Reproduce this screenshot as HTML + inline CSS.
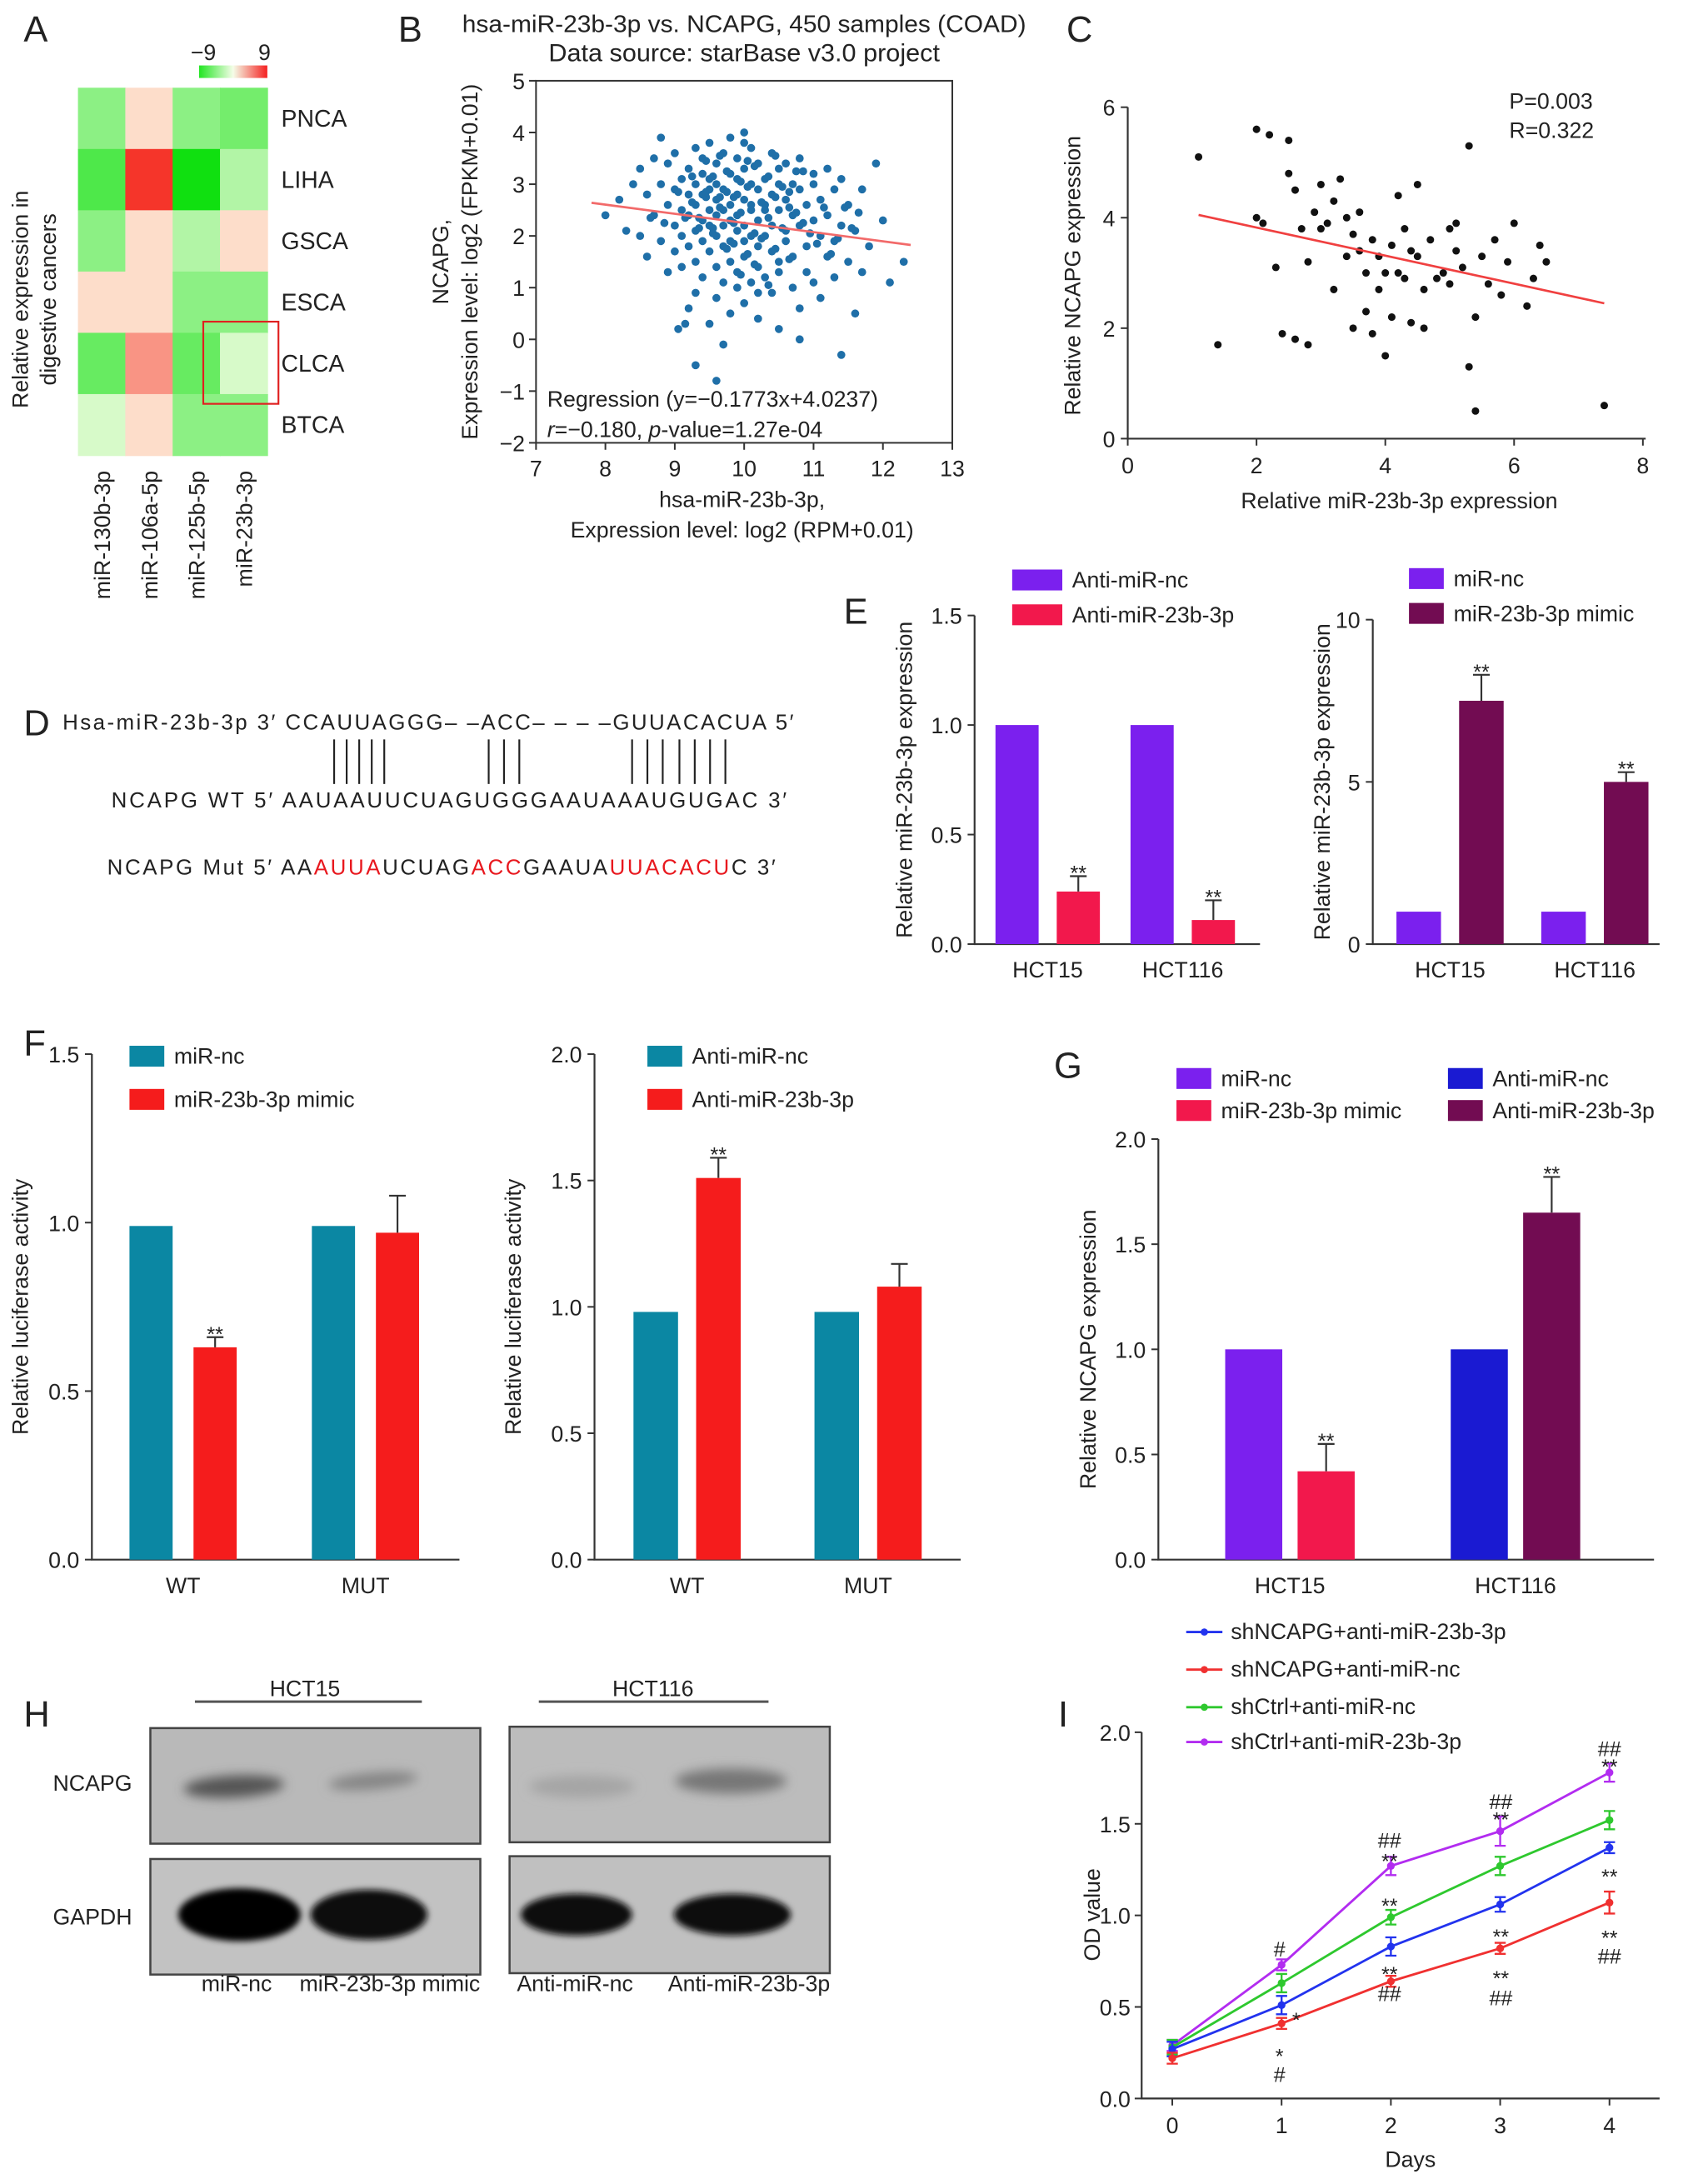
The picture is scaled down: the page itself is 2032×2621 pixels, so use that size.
<!DOCTYPE html>
<html><head><meta charset="utf-8"><style>
html,body{margin:0;padding:0;background:#fff}
svg{display:block}
text{font-family:"Liberation Sans",Arial,sans-serif;fill:#222}
</style></head><body>
<svg id="fig" xmlns="http://www.w3.org/2000/svg" width="2032" height="2621" viewBox="0 0 1216 1568.4" preserveAspectRatio="none">
<defs>
<filter id="blur3" x="-30%" y="-80%" width="160%" height="260%"><feGaussianBlur stdDeviation="4"/></filter>
<filter id="blur2" x="-30%" y="-80%" width="160%" height="260%"><feGaussianBlur stdDeviation="2.2"/></filter>
<linearGradient id="cbar" x1="0" x2="1" y1="0" y2="0"><stop offset="0" stop-color="#22e622"/><stop offset="0.5" stop-color="#f5fde8"/><stop offset="1" stop-color="#f52020"/></linearGradient>
</defs>
<g id="pA">
<text x="17" y="30" font-size="26">A</text>
<text x="146" y="43" font-size="16" text-anchor="middle">−9</text>
<text x="190" y="43" font-size="16" text-anchor="middle">9</text>
<rect x="143" y="47" width="49" height="9" fill="url(#cbar)"/>
<text transform="translate(20,215) rotate(-90)" font-size="16" text-anchor="middle">Relative expression in</text>
<text transform="translate(40,215) rotate(-90)" font-size="16" text-anchor="middle">digestive cancers</text>
</g>
<g id="pB">
<text x="286" y="30" font-size="26">B</text>
<text x="332" y="23" font-size="17" textLength="405" lengthAdjust="spacingAndGlyphs">hsa-miR-23b-3p vs. NCAPG, 450 samples (COAD)</text>
<text x="394" y="44" font-size="17.5" textLength="281" lengthAdjust="spacingAndGlyphs">Data source: starBase v3.0 project</text>
<rect x="385" y="58" width="299" height="260" fill="none" stroke="#333" stroke-width="1.2"/>
<text x="533" y="364" font-size="16" text-anchor="middle">hsa-miR-23b-3p,</text>
<text x="533" y="386" font-size="16" text-anchor="middle">Expression level: log2 (RPM+0.01)</text>
<text transform="translate(322,188) rotate(-90)" font-size="16" text-anchor="middle">NCAPG,</text>
<text transform="translate(343,188) rotate(-90)" font-size="16" text-anchor="middle">Expression level: log2 (FPKM+0.01)</text>
<text x="393" y="292" font-size="16">Regression (y=−0.1773x+4.0237)</text>
<text x="393" y="314" font-size="16"><tspan font-style="italic">r</tspan>=−0.180, <tspan font-style="italic">p</tspan>-value=1.27e-04</text>
</g>
<g id="pC">
<text x="766" y="30" font-size="26">C</text>
<text x="1084" y="78" font-size="16">P=0.003</text>
<text x="1084" y="99" font-size="16">R=0.322</text>
<text x="1005" y="365" font-size="16" text-anchor="middle">Relative miR-23b-3p expression</text>
<text transform="translate(776,198) rotate(-90)" font-size="16" text-anchor="middle">Relative NCAPG expression</text>
</g>
<g id="pD" font-size="15.5">
<text x="17" y="528" font-size="26">D</text>
<text x="45" y="524" font-size="15.5" textLength="525" lengthAdjust="spacing">Hsa-miR-23b-3p  3′  CCAUUAGGG– –ACC– – – –GUUACACUA 5′</text>
<g stroke="#222" stroke-width="1.3">
<line x1="240" y1="531" x2="240" y2="563"/><line x1="249" y1="531" x2="249" y2="563"/><line x1="258" y1="531" x2="258" y2="563"/><line x1="267" y1="531" x2="267" y2="563"/><line x1="276" y1="531" x2="276" y2="563"/>
<line x1="351" y1="531" x2="351" y2="563"/><line x1="362" y1="531" x2="362" y2="563"/><line x1="373" y1="531" x2="373" y2="563"/>
<line x1="454" y1="531" x2="454" y2="563"/><line x1="465" y1="531" x2="465" y2="563"/><line x1="476" y1="531" x2="476" y2="563"/><line x1="488" y1="531" x2="488" y2="563"/><line x1="499" y1="531" x2="499" y2="563"/><line x1="510" y1="531" x2="510" y2="563"/><line x1="521" y1="531" x2="521" y2="563"/>
</g>
<text x="80" y="580" font-size="15.5" textLength="485" lengthAdjust="spacing">NCAPG WT  5′   AAUAAUUCUAGUGGGAAUAAAUGUGAC 3′</text>
<text x="77" y="628" font-size="15.5" textLength="480" lengthAdjust="spacing">NCAPG Mut  5′   AA<tspan fill="#e8181e">AUUA</tspan>UCUAG<tspan fill="#e8181e">ACC</tspan>GAAUA<tspan fill="#e8181e">UUACACU</tspan>C 3′</text>
</g>
<g id="pE">
<text x="606" y="448" font-size="26">E</text>
</g>
<g id="pF">
<text x="17" y="758" font-size="26">F</text>
</g>
<g id="pG">
<text x="757" y="774" font-size="26">G</text>
</g>
<g id="pH">
<text x="17" y="1240" font-size="26">H</text>
<text x="219" y="1218" font-size="16" text-anchor="middle">HCT15</text>
<line x1="140" y1="1222" x2="303" y2="1222" stroke="#555" stroke-width="1.8"/>
<text x="469" y="1218" font-size="16" text-anchor="middle">HCT116</text>
<line x1="387" y1="1222" x2="552" y2="1222" stroke="#555" stroke-width="1.8"/>
<text x="38" y="1286" font-size="16">NCAPG</text>
<text x="38" y="1382" font-size="16">GAPDH</text>
<rect x="108" y="1241" width="237" height="83" fill="#b9b9b9" stroke="#444" stroke-width="1.5"/>
<rect x="108" y="1335" width="237" height="83" fill="#c2c2c2" stroke="#444" stroke-width="1.5"/>
<rect x="366" y="1240" width="230" height="83" fill="#bcbcbc" stroke="#444" stroke-width="1.5"/>
<rect x="366" y="1333" width="230" height="84" fill="#c0c0c0" stroke="#444" stroke-width="1.5"/>
<ellipse cx="168" cy="1283" rx="36" ry="8" fill="#555" filter="url(#blur3)" transform="rotate(-3 168 1283)"/>
<ellipse cx="268" cy="1279" rx="32" ry="6" fill="#858585" filter="url(#blur3)" transform="rotate(-5 268 1279)"/>
<ellipse cx="418" cy="1283" rx="38" ry="8" fill="#a5a5a5" filter="url(#blur3)"/>
<ellipse cx="525" cy="1279" rx="40" ry="9" fill="#777" filter="url(#blur3)"/>
<ellipse cx="172" cy="1375" rx="44" ry="19" fill="#050505" filter="url(#blur2)"/>
<ellipse cx="265" cy="1375" rx="42" ry="18" fill="#101010" filter="url(#blur2)"/>
<ellipse cx="414" cy="1375" rx="40" ry="15" fill="#111" filter="url(#blur2)"/>
<ellipse cx="526" cy="1375" rx="42" ry="15" fill="#111" filter="url(#blur2)"/>
<text x="170" y="1430" font-size="16" text-anchor="middle">miR-nc</text>
<text x="280" y="1430" font-size="16" text-anchor="middle">miR-23b-3p mimic</text>
<text x="413" y="1430" font-size="16" text-anchor="middle">Anti-miR-nc</text>
<text x="538" y="1430" font-size="16" text-anchor="middle">Anti-miR-23b-3p</text>
</g>
<g id="pI">
<text x="760" y="1240" font-size="26">I</text>
<text x="1013" y="1556" font-size="16" text-anchor="middle">Days</text>
<text transform="translate(790,1375) rotate(-90)" font-size="16" text-anchor="middle">OD value</text>
</g>
</svg>
<script>
// ---------- data ----------
const hmRows = ['PNCA','LIHA','GSCA','ESCA','CLCA','BTCA'];
const hmCols = ['miR-130b-3p','miR-106a-5p','miR-125b-5p','miR-23b-3p'];
const hmValues = [[-4,0.5,-4,-5],[-6.5,8.5,-9,-2.5],[-4,0.5,-2.5,0.5],[0.5,0.5,-4,-4],[-5.5,4,-5.5,-1],[-1,0.5,-4,-4]];

const bX = [8.0,8.2,8.3,8.4,8.5,8.5,8.6,8.6,8.7,8.7,8.8,8.8,8.8,8.9,8.9,8.9,9.0,9.0,9.0,9.0,9.1,9.1,9.1,9.1,9.2,9.2,9.2,9.2,9.2,9.3,9.3,9.3,9.3,9.3,9.3,9.4,9.4,9.4,9.4,9.4,9.4,9.5,9.5,9.5,9.5,9.5,9.5,9.5,9.6,9.6,9.6,9.6,9.6,9.6,9.6,9.7,9.7,9.7,9.7,9.7,9.7,9.7,9.8,9.8,9.8,9.8,9.8,9.8,9.8,9.9,9.9,9.9,9.9,9.9,9.9,10.0,10.0,10.0,10.0,10.0,10.0,10.0,10.1,10.1,10.1,10.1,10.1,10.1,10.2,10.2,10.2,10.2,10.2,10.2,10.3,10.3,10.3,10.3,10.3,10.4,10.4,10.4,10.4,10.4,10.5,10.5,10.5,10.5,10.5,10.6,10.6,10.6,10.6,10.7,10.7,10.7,10.7,10.8,10.8,10.8,10.8,10.9,10.9,10.9,11.0,11.0,11.0,11.0,11.1,11.1,11.1,11.2,11.2,11.2,11.3,11.3,11.3,11.4,11.4,11.5,11.5,11.6,11.6,11.7,11.7,11.8,11.9,12.0,12.1,12.3,9.9,10.2,10.5,9.6,9.3,10.8,11.4,10.0,
 9.05,9.15,9.25,9.35,9.45,9.55,9.65,9.75,9.85,9.95,10.05,10.15,10.25,10.35,10.45,10.55,10.65,10.75,10.85,10.95,9.15,9.35,9.55,9.75,9.95,10.15,10.35,10.55,10.75,9.45,9.65,9.85,10.05,10.25,10.45,10.65,11.05,11.25,11.45,11.65,8.85,8.65,9.05,9.25,9.45,9.65,9.85,10.05,10.25,10.45,10.65,10.85,11.15,11.35,11.55,9.55,9.75,9.95,10.15,10.35];
const bY = [2.4,2.7,2.1,3.0,3.3,2.0,2.8,1.6,3.5,2.4,3.0,1.9,3.9,2.6,1.3,3.4,2.2,2.9,1.7,3.6,2.5,3.1,1.4,2.0,2.8,3.3,1.8,2.4,0.6,2.1,3.0,1.5,3.7,2.6,0.9,2.3,3.2,1.9,2.8,1.2,3.5,2.5,3.8,1.7,2.2,2.9,0.3,3.1,2.0,2.7,1.4,3.4,2.4,0.8,3.0,2.2,1.8,2.9,3.6,1.1,2.5,-0.1,2.6,1.9,3.2,2.3,1.5,3.9,0.5,2.8,2.1,1.3,3.1,2.4,3.5,1.9,2.7,0.7,3.3,2.2,1.6,4.0,2.5,3.0,1.1,2.0,3.7,2.6,1.8,2.9,0.4,2.3,3.4,1.4,2.6,2.0,3.1,1.2,2.5,3.6,1.7,2.8,0.9,2.2,3.3,2.5,1.5,3.0,0.2,2.1,2.7,1.9,3.4,1.0,2.4,3.0,1.6,0.6,2.9,2.2,3.5,1.3,2.6,1.8,3.2,2.3,1.1,3.0,2.0,2.7,0.8,1.6,3.3,2.4,1.9,2.9,1.2,2.2,3.1,1.5,2.6,0.5,2.1,2.9,1.3,1.8,3.4,2.3,1.1,1.5,1.0,0.9,1.3,-0.8,-0.5,0.0,-0.3,3.8,0.2,0.3,
 2.65,2.35,2.75,2.15,2.55,2.85,2.25,2.45,2.95,2.05,2.65,2.35,2.75,2.15,2.55,2.45,2.25,2.05,2.35,2.15,3.15,3.25,3.05,3.35,3.15,2.95,3.25,2.85,2.75,1.85,1.65,1.95,1.75,1.55,1.85,1.65,2.55,2.45,2.25,2.35,2.85,3.15,3.45,3.55,2.75,3.45,2.65,3.55,2.85,3.25,2.55,1.95,2.15,2.05,1.75,1.25,1.45,1.05,1.35,1.15];

const cX = [1.1,1.4,2.0,2.0,2.1,2.2,2.3,2.4,2.5,2.5,2.6,2.6,2.7,2.8,2.8,2.9,3.0,3.0,3.1,3.2,3.2,3.3,3.4,3.4,3.5,3.5,3.6,3.6,3.7,3.7,3.8,3.8,3.9,3.9,4.0,4.0,4.1,4.1,4.2,4.2,4.3,4.3,4.4,4.4,4.5,4.5,4.6,4.6,4.7,4.8,4.9,5.0,5.0,5.1,5.1,5.2,5.3,5.3,5.4,5.4,5.5,5.6,5.7,5.8,5.9,6.0,6.2,6.3,6.4,6.5,7.4];
const cY = [5.1,1.7,5.6,4.0,3.9,5.5,3.1,1.9,4.8,5.4,4.5,1.8,3.8,3.2,1.7,4.1,3.8,4.6,3.9,4.3,2.7,4.7,4.0,3.3,3.7,2.0,3.4,4.1,3.0,2.3,3.6,1.9,2.7,3.3,1.5,3.0,3.5,2.2,3.0,4.4,2.9,3.8,3.4,2.1,4.6,3.3,2.0,2.7,3.6,2.9,3.0,3.8,2.8,3.4,3.9,3.1,1.3,5.3,2.2,0.5,3.3,2.8,3.6,2.6,3.2,3.9,2.4,2.9,3.5,3.2,0.6];

// Panel E
const eCats = ['HCT15','HCT116'];
const eLeftCtrl = [1.0,1.0];
const eLeftTreat = [0.24,0.11];
const eLeftTreatErr = [0.07,0.09];
const eLeftTicks = [0,0.5,1.0,1.5];
const eRightCtrl = [1.0,1.0];
const eRightTreat = [7.5,5.0];
const eRightTreatErr = [0.8,0.3];
const eRightTicks = [0,5,10];
// Panel F
const fCats = ['WT','MUT'];
const fLeftCtrl = [0.99,0.99];
const fLeftTreat = [0.63,0.97];
const fLeftTreatErr = [0.03,0.11];
const fLeftTicks = [0,0.5,1.0,1.5];
const fRightCtrl = [0.98,0.98];
const fRightTreat = [1.51,1.08];
const fRightTreatErr = [0.08,0.09];
const fRightTicks = [0,0.5,1.0,1.5,2.0];
// Panel G
const gCats = ['HCT15','HCT116'];
const gCtrl = [1.0,1.0];
const gTreat = [0.42,1.65];
const gTreatErr = [0.13,0.17];
const gTicks = [0,0.5,1.0,1.5,2.0];
// Panel I
const iDays = [0,1,2,3,4];
const iBlue = [0.27,0.51,0.83,1.06,1.37];
const iRed = [0.22,0.41,0.64,0.82,1.07];
const iGreen = [0.28,0.63,0.99,1.27,1.52];
const iViolet = [0.29,0.73,1.27,1.46,1.78];
const iBlueErr = [0.04,0.05,0.05,0.04,0.03];
const iRedErr = [0.03,0.03,0.03,0.03,0.06];
const iGreenErr = [0.04,0.05,0.04,0.05,0.05];
const iVioletErr = [0.03,0.03,0.05,0.08,0.05];
const iTicks = [0,0.5,1.0,1.5,2.0];

// ---------- helpers ----------
const NS = 'http://www.w3.org/2000/svg';
function mk(tag, parent, attrs){const e=document.createElementNS(NS,tag);for(const k in attrs)e.setAttribute(k,attrs[k]);parent.appendChild(e);return e;}
function lin(d0,d1,r0,r1){return v=>r0+(v-d0)*(r1-r0)/(d1-d0);}
function fmt(v){return (v<0?'−':'')+Math.abs(v);}
function fmt1(v){return v.toFixed(1);}

// ---------- Panel A ----------
(function(){
  const g=document.getElementById('pA');
  const x0=56,y0=63,cw=34,ch=44;
  function col(v){
    let a,b,t;
    if(v<0){a=[240,253,224];b=[16,224,16];t=-v/9;}else{a=[253,232,212];b=[245,42,32];t=v/9;}
    return 'rgb('+a.map((c,i)=>Math.round(c+(b[i]-c)*t)).join(',')+')';
  }
  hmValues.forEach((row,r)=>row.forEach((v,c)=>{
    const cell=mk('rect',g,{x:x0+c*cw,y:y0+r*ch,width:cw+0.5,height:ch+0.5,fill:col(v)});
    
    
  }));
  hmRows.forEach((n,r)=>{
    const t=mk('text',g,{x:x0+4*cw+10,y:y0+r*ch+ch/2+6,'font-size':17});
    t.textContent=n;
    
    
  });
  hmCols.forEach((n,c)=>{
    const t=mk('text',g,{transform:'translate('+(x0+c*cw+cw/2+6)+',338) rotate(-90)','font-size':16,'text-anchor':'end'});
    t.textContent=n;
    
    
  });
  const box=mk('rect',g,{x:146,y:231,width:54,height:59,fill:'none',stroke:'#e02020','stroke-width':1.3});
  
  
})();

// ---------- Panel B ----------
(function(){
  const g=document.getElementById('pB');
  const sx=lin(7,13,385,684), sy=lin(-2,5,318,58);
  for(let v=7;v<=13;v++){
    const tk=mk('line',g,{x1:sx(v),x2:sx(v),y1:318,y2:323,stroke:'#333','stroke-width':1.2});
    
    
    const t=mk('text',g,{x:sx(v),y:342,'font-size':16,'text-anchor':'middle'});t.textContent=v;
    
    
  }
  for(let v=-2;v<=5;v++){
    const tk=mk('line',g,{x1:380,x2:385,y1:sy(v),y2:sy(v),stroke:'#333','stroke-width':1.2});
    
    
    const t=mk('text',g,{x:377,y:sy(v)+6,'font-size':16,'text-anchor':'end'});t.textContent=fmt(v);
    
    
  }
  bX.forEach((x,i)=>{
    const p=mk('circle',g,{cx:sx(x),cy:sy(bY[i]),r:2.9,fill:'#1f6fa8'});
    
    
  });
  const f=x=>-0.1773*x+4.0237;
  const l=mk('line',g,{x1:sx(7.8),y1:sy(f(7.8)),x2:sx(12.4),y2:sy(f(12.4)),stroke:'#f26a6a','stroke-width':1.6});
  
  
})();

// ---------- Panel C ----------
(function(){
  const g=document.getElementById('pC');
  const sx=lin(0,8,810,1180), sy=lin(0,6,315,77);
  const ax=mk('path',g,{d:'M810,77 V315 H1182',fill:'none',stroke:'#333','stroke-width':1.3});
  
  
  [0,2,4,6,8].forEach(v=>{
    const tk=mk('line',g,{x1:sx(v),x2:sx(v),y1:315,y2:320,stroke:'#333','stroke-width':1.2});
    
    
    const t=mk('text',g,{x:sx(v),y:340,'font-size':16,'text-anchor':'middle'});t.textContent=v;
    
    
  });
  [0,2,4,6].forEach(v=>{
    const tk=mk('line',g,{x1:805,x2:810,y1:sy(v),y2:sy(v),stroke:'#333','stroke-width':1.2});
    
    
    const t=mk('text',g,{x:801,y:sy(v)+6,'font-size':16,'text-anchor':'end'});t.textContent=v;
    
    
  });
  cX.forEach((x,i)=>{
    const p=mk('circle',g,{cx:sx(x),cy:sy(cY[i]),r:2.7,fill:'#111'});
    
    
  });
  const l=mk('line',g,{x1:sx(1.1),y1:sy(4.05),x2:sx(7.4),y2:sy(2.45),stroke:'#f04040','stroke-width':1.6});
  
  
})();

// ---------- bar chart ----------
function barChart(g, o){
  const sy=lin(0,o.max,o.y0,o.yTop);
  const ax=mk('path',g,{d:'M'+o.ax+','+o.yTop+' V'+o.y0+' H'+o.axEnd,fill:'none',stroke:'#333','stroke-width':1.3});
  
  
  o.ticks.forEach(v=>{
    const tk=mk('line',g,{x1:o.ax-5,x2:o.ax,y1:sy(v),y2:sy(v),stroke:'#333','stroke-width':1.2});
    
    
    const t=mk('text',g,{x:o.ax-9,y:sy(v)+6,'font-size':16,'text-anchor':'end'});t.textContent=o.int?v:fmt1(v);
    
    
  });
  o.cats.forEach((c,i)=>{
    const b1=mk('rect',g,{x:o.cx[i],y:sy(o.ctrl[i]),width:o.bw,height:o.y0-sy(o.ctrl[i]),fill:o.c1[i]});
    
    
    const xt=o.cx[i]+o.gap;
    const b2=mk('rect',g,{x:xt,y:sy(o.treat[i]),width:o.bw,height:o.y0-sy(o.treat[i]),fill:o.c2[i]});
    
    
    const mx=xt+o.bw/2, top=sy(o.treat[i]+o.err[i]);
    const e=mk('path',g,{d:'M'+mx+','+sy(o.treat[i])+' V'+top+' M'+(mx-6)+','+top+' H'+(mx+6),stroke:'#333','stroke-width':1.3,fill:'none'});
    
    
    if(o.stars[i]){
      const s=mk('text',g,{x:mx,y:top+3,'font-size':15,'text-anchor':'middle',fill:'#333'});s.textContent='**';
      
      
    }
    const lab=mk('text',g,{x:o.cx[i]+(o.gap+o.bw)/2,y:o.y0+24,'font-size':16,'text-anchor':'middle'});lab.textContent=c;
    
    
  });
  const yt=mk('text',g,{transform:'translate('+o.titleX+','+((o.y0+o.yTop)/2)+') rotate(-90)','font-size':16,'text-anchor':'middle'});
  yt.textContent=o.title;
  
  
}
function legendEntry(g,x,y,color,label){
  const r=mk('rect',g,{x:x,y:y-12,width:o2w,height:15,fill:color});
  
  
  const t=mk('text',g,{x:x+o2w+7,y:y+1,'font-size':16});t.textContent=label;
  
  
}
let o2w=25;
const PUR='#7b20ee', PINK='#f2184c', MAR='#720c52', TEAL='#0b87a3', RED='#f51c1c', BLUE='#1a1ad2';

(function(){
  const g=document.getElementById('pE');
  barChart(g,{max:1.5,y0:678,yTop:442,ax:700,axEnd:905,ticks:eLeftTicks,cats:eCats,ctrl:eLeftCtrl,treat:eLeftTreat,err:eLeftTreatErr,cx:[715,812],gap:44,bw:31,c1:[PUR,PUR],c2:[PINK,PINK],stars:[1,1],titleX:655,title:'Relative miR-23b-3p expression'});
  o2w=36;
  legendEntry(g,727,421,PUR,'Anti-miR-nc');
  legendEntry(g,727,446,PINK,'Anti-miR-23b-3p');
  o2w=25;
  barChart(g,{max:10,y0:678,yTop:445,ax:986,axEnd:1192,int:1,ticks:eRightTicks,cats:eCats,ctrl:eRightCtrl,treat:eRightTreat,err:eRightTreatErr,cx:[1003,1107],gap:45,bw:32,c1:[PUR,PUR],c2:[MAR,MAR],stars:[1,1],titleX:955,title:'Relative miR-23b-3p expression'});
  legendEntry(g,1012,420,PUR,'miR-nc');
  legendEntry(g,1012,445,MAR,'miR-23b-3p mimic');
})();
(function(){
  const g=document.getElementById('pF');
  barChart(g,{max:1.5,y0:1120,yTop:757,ax:66,axEnd:330,ticks:fLeftTicks,cats:fCats,ctrl:fLeftCtrl,treat:fLeftTreat,err:fLeftTreatErr,cx:[93,224],gap:46,bw:31,c1:[TEAL,TEAL],c2:[RED,RED],stars:[1,0],titleX:20,title:'Relative luciferase activity'});
  legendEntry(g,93,763,TEAL,'miR-nc');
  legendEntry(g,93,794,RED,'miR-23b-3p mimic');
  barChart(g,{max:2.0,y0:1120,yTop:757,ax:427,axEnd:690,ticks:fRightTicks,cats:fCats,ctrl:fRightCtrl,treat:fRightTreat,err:fRightTreatErr,cx:[455,585],gap:45,bw:32,c1:[TEAL,TEAL],c2:[RED,RED],stars:[1,0],titleX:374,title:'Relative luciferase activity'});
  legendEntry(g,465,763,TEAL,'Anti-miR-nc');
  legendEntry(g,465,794,RED,'Anti-miR-23b-3p');
})();
(function(){
  const g=document.getElementById('pG');
  barChart(g,{max:2.0,y0:1120,yTop:818,ax:832,axEnd:1188,ticks:gTicks,cats:gCats,ctrl:gCtrl,treat:gTreat,err:gTreatErr,cx:[880,1042],gap:52,bw:41,c1:[PUR,BLUE],c2:[PINK,MAR],stars:[1,1],titleX:787,title:'Relative NCAPG expression'});
  legendEntry(g,845,779,PUR,'miR-nc');
  legendEntry(g,845,802,PINK,'miR-23b-3p mimic');
  legendEntry(g,1040,779,BLUE,'Anti-miR-nc');
  legendEntry(g,1040,802,MAR,'Anti-miR-23b-3p');
})();

// ---------- Panel I ----------
(function(){
  const g=document.getElementById('pI');
  const sx=lin(0,4,842,1156), sy=lin(0,2,1507,1244);
  const ax=mk('path',g,{d:'M820,1244 V1507 H1192',fill:'none',stroke:'#333','stroke-width':1.3});
  
  
  iTicks.forEach(v=>{
    const tk=mk('line',g,{x1:815,x2:820,y1:sy(v),y2:sy(v),stroke:'#333','stroke-width':1.2});
    
    
    const t=mk('text',g,{x:812,y:sy(v)+6,'font-size':16,'text-anchor':'end'});t.textContent=fmt1(v);
    
    
  });
  iDays.forEach(d=>{
    const tk=mk('line',g,{x1:sx(d),x2:sx(d),y1:1507,y2:1512,stroke:'#333','stroke-width':1.2});
    
    
    const t=mk('text',g,{x:sx(d),y:1532,'font-size':16,'text-anchor':'middle'});t.textContent=d;
    
    
  });
  const series=[[iViolet,iVioletErr,'#b22cf0','shCtrl+anti-miR-23b-3p',1256],[iGreen,iGreenErr,'#2ec82e','shCtrl+anti-miR-nc',1231],[iBlue,iBlueErr,'#2233ee','shNCAPG+anti-miR-23b-3p',1177],[iRed,iRedErr,'#f03030','shNCAPG+anti-miR-nc',1204]];
  series.forEach(s=>{
    const pts=iDays.map((d,i)=>sx(d)+','+sy(s[0][i])).join(' ');
    const pl=mk('polyline',g,{points:pts,fill:'none',stroke:s[2],'stroke-width':1.7});
    
    
    iDays.forEach((d,i)=>{
      const x=sx(d),a=sy(s[0][i]+s[1][i]),b=sy(s[0][i]-s[1][i]);
      const e=mk('path',g,{d:'M'+x+','+a+' V'+b+' M'+(x-4)+','+a+' H'+(x+4)+' M'+(x-4)+','+b+' H'+(x+4),stroke:s[2],'stroke-width':1.4,fill:'none'});
      
      
      const p=mk('circle',g,{cx:x,cy:sy(s[0][i]),r:2.8,fill:s[2]});
      
      
    });
    const ll=mk('line',g,{x1:852,x2:878,y1:s[4]-5,y2:s[4]-5,stroke:s[2],'stroke-width':1.7});
    
    
    const ld=mk('circle',g,{cx:865,cy:s[4]-5,r:2.6,fill:s[2]});
    
    
    const lt=mk('text',g,{x:884,y:s[4],'font-size':16});lt.textContent=s[3];
    
    
  });
  const ann=[['#',919,1400],['*',931,1451],['*',919,1477],['#',919,1490],['##',998,1322],['**',998,1337],['**',998,1369],['**',998,1418],['##',998,1432],['##',1078,1294],['**',1078,1307],['**',1078,1391],['**',1078,1421],['##',1078,1435],['##',1156,1256],['**',1156,1269],['**',1156,1348],['**',1156,1392],['##',1156,1405]];
  ann.forEach(a=>{
    const t=mk('text',g,{x:a[1],y:a[2]+5,'font-size':15,'text-anchor':'middle',fill:'#444'});t.textContent=a[0];
    
    
  });
})();
</script>
</body></html>
